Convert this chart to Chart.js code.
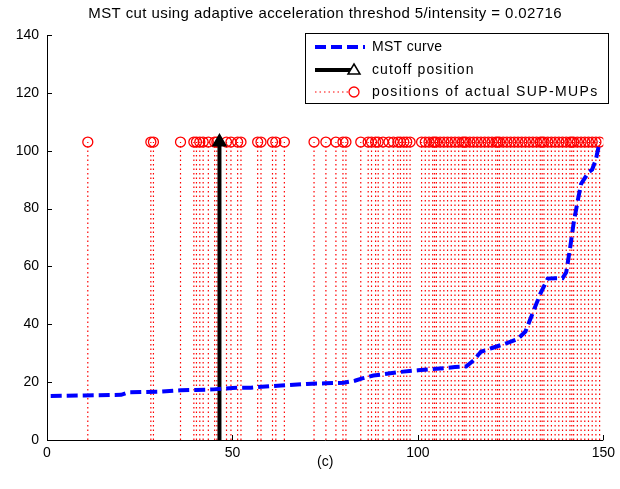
<!DOCTYPE html>
<html>
<head>
<meta charset="utf-8">
<script src="https://cdn.jsdelivr.net/npm/chart.js@4"></script>
<style>
  html, body { margin: 0; padding: 0; background: #fff; }
  #wrap { width: 620px; height: 489px; }
</style>
</head>
<body>
<div id="wrap"><canvas id="chart" width="620" height="489"></canvas></div>
<script>
// MST curve (x = index, y = MST value)
const curveX = [1, 10, 20, 22, 30, 36, 40, 45, 50, 55, 60, 65, 70, 75, 80, 83, 85, 88, 90, 95, 100, 105, 110, 113, 115, 117, 120, 124, 127, 129, 131, 133, 135, 137, 139, 140, 141, 142, 143, 144, 145, 146, 147, 148, 149];
const curveY = [15.2, 15.4, 15.6, 16.5, 16.7, 17.2, 17.3, 17.5, 18.0, 18.1, 18.6, 19.0, 19.4, 19.6, 19.8, 20.5, 21.3, 22.3, 22.6, 23.5, 24.1, 24.6, 25.2, 25.4, 27.5, 30.5, 31.8, 33.5, 35.0, 37.5, 44.0, 50.5, 55.8, 55.9, 55.9, 58.0, 66.0, 75.0, 82.0, 88.5, 90.5, 92.5, 93.5, 97.0, 103.0];

// positions of actual SUP-MUPs
const supPositions = [11, 28, 28.7, 36, 39.6, 40.3, 41.2, 42.1, 43.5, 45.2, 45.8, 48.4, 49.6, 51.4, 52.3, 56.8, 57.7, 60.8, 61.7, 64.0,
  72.0, 75.2, 77.9, 79.8, 80.6, 84.6, 86.6, 87.5, 88.6, 89.3, 90.6, 92.2, 93.4, 94.6, 95.3, 96.2, 97.0, 97.9,
  101, 102, 103, 104, 104.5, 105, 106, 107, 108, 109, 110, 111, 112, 112.5, 113, 114, 115, 116, 117, 118, 119, 120,
  121, 121.5, 122, 123, 124, 125, 126, 127, 128, 129, 130, 131, 132, 133, 133.5, 134, 135, 136, 137, 138, 139, 140,
  141, 141.5, 142, 143, 144, 145, 146, 147, 148, 149];
const stemHeight = 103;

// cutoff position
const cutoffX = 46.5;
const cutoffTop = 103;

// axis ticks
const xTicks = [0, 50, 100, 150];
const yTicks = [0, 20, 40, 60, 80, 100, 120, 140];

const titleText = 'MST cut using adaptive acceleration threshod 5/intensity = 0.02716';
const xTitle = '(c)';
const legendLabels = ['MST curve', 'cutoff position', 'positions of actual SUP-MUPs'];

const FONT = 'Arial, "Liberation Sans", Helvetica, sans-serif';

// build datasets
const curveData = curveX.map((x, i) => ({ x: x, y: curveY[i] }));
const stemData = [];
supPositions.forEach(p => {
  stemData.push({ x: p, y: 0 }, { x: p, y: stemHeight }, { x: p, y: null });
});
const cutoffData = [{ x: cutoffX, y: 0 }, { x: cutoffX, y: cutoffTop }];

// MATLAB-like axes, inward ticks, title and legend
const matlabDecor = {
  id: 'matlabDecor',
  afterDraw(chart) {
    const ctx = chart.ctx;
    const a = chart.chartArea;
    const xs = chart.scales.x, ys = chart.scales.y;
    ctx.save();
    ctx.strokeStyle = '#000';
    ctx.lineWidth = 1;
    ctx.beginPath();
    ctx.moveTo(a.left + 0.5, a.top);
    ctx.lineTo(a.left + 0.5, a.bottom + 0.5);
    ctx.lineTo(a.right, a.bottom + 0.5);
    ctx.stroke();
    ctx.beginPath();
    yTicks.forEach(v => {
      const y = Math.round(ys.getPixelForValue(v)) + 0.5;
      ctx.moveTo(a.left, y);
      ctx.lineTo(a.left + 5, y);
    });
    xTicks.forEach(v => {
      const x = Math.round(xs.getPixelForValue(v)) + 0.5;
      ctx.moveTo(x, a.bottom);
      ctx.lineTo(x, a.bottom - 5);
    });
    ctx.stroke();

    // title
    ctx.fillStyle = '#000';
    ctx.font = '15px ' + FONT;
    ctx.letterSpacing = '0.4px';
    ctx.textAlign = 'center';
    ctx.textBaseline = 'middle';
    ctx.fillText(titleText, (a.left + a.right) / 2, 14);

    // legend box
    const bx = 305, by = 33, bw = 303, bh = 70;
    ctx.letterSpacing = '0px';
    ctx.fillStyle = '#fff';
    ctx.fillRect(bx, by, bw, bh);
    ctx.strokeRect(bx + 0.5, by + 0.5, bw, bh);
    const rows = [47, 70, 92];
    const x0 = 315, x1 = 365, tx = 372;

    // MST curve sample
    ctx.strokeStyle = '#0000ff';
    ctx.lineWidth = 4;
    ctx.setLineDash([11, 5]);
    ctx.beginPath();
    ctx.moveTo(x0, rows[0]);
    ctx.lineTo(x1, rows[0]);
    ctx.stroke();
    ctx.setLineDash([]);

    // cutoff sample
    ctx.strokeStyle = '#000';
    ctx.lineWidth = 4;
    ctx.beginPath();
    ctx.moveTo(x0, rows[1]);
    ctx.lineTo(x1 - 14, rows[1]);
    ctx.stroke();
    ctx.lineWidth = 1.5;
    ctx.beginPath();
    ctx.moveTo(354, rows[1] - 6);
    ctx.lineTo(360, rows[1] + 4);
    ctx.lineTo(348, rows[1] + 4);
    ctx.closePath();
    ctx.fillStyle = '#fff';
    ctx.fill();
    ctx.stroke();

    // SUP-MUP sample
    ctx.strokeStyle = '#ff0000';
    ctx.lineWidth = 1.2;
    ctx.setLineDash([1.5, 3]);
    ctx.beginPath();
    ctx.moveTo(x0, rows[2]);
    ctx.lineTo(x1 - 16, rows[2]);
    ctx.stroke();
    ctx.setLineDash([]);
    ctx.lineWidth = 1.3;
    ctx.beginPath();
    ctx.arc(354, rows[2], 5, 0, Math.PI * 2);
    ctx.stroke();

    ctx.fillStyle = '#000';
    ctx.font = '14px ' + FONT;
    ctx.textAlign = 'left';
    const spacing = ['0.3px', '1.1px', '1.4px'];
    legendLabels.forEach((t, i) => {
      ctx.letterSpacing = spacing[i];
      ctx.fillText(t, tx, rows[i]);
    });
    ctx.restore();
  }
};

new Chart(document.getElementById('chart'), {
  type: 'line',
  data: {
    datasets: [
      {
        label: legendLabels[0],
        data: curveData,
        borderColor: '#0000ff',
        borderWidth: 4,
        borderDash: [11, 5],
        pointRadius: 0,
        tension: 0,
        fill: false
      },
      {
        label: legendLabels[1],
        data: cutoffData,
        borderColor: '#000',
        backgroundColor: '#000',
        borderWidth: 4,
        pointStyle: 'triangle',
        pointRadius: ctx => (ctx.raw && ctx.raw.y === cutoffTop ? 7 : 0),
        pointBorderWidth: 2,
        fill: false
      },
      {
        label: legendLabels[2],
        data: stemData,
        borderColor: '#ff0000',
        borderWidth: 1.2,
        borderDash: [1.5, 3],
        spanGaps: false,
        pointStyle: 'circle',
        pointRadius: ctx => (ctx.raw && ctx.raw.y === stemHeight ? 5 : 0),
        pointBorderColor: '#ff0000',
        pointBackgroundColor: 'rgba(0,0,0,0)',
        pointBorderWidth: 1.3,
        fill: false
      }
    ]
  },
  options: {
    responsive: false,
    animation: false,
    layout: { padding: { top: 35, right: 15, left: 0, bottom: 0 } },
    plugins: {
      legend: { display: false },
      tooltip: { enabled: false },
      title: { display: false }
    },
    scales: {
      x: {
        type: 'linear',
        min: 0,
        max: 150,
        afterBuildTicks: s => { s.ticks = xTicks.map(v => ({ value: v })); },
        afterFit: s => { s.height = 49; },
        grid: { display: false, drawTicks: false },
        border: { display: false },
        ticks: { color: '#000', font: { family: FONT, size: 14 }, padding: 5, maxRotation: 0 },
        title: { display: true, text: xTitle, color: '#000', font: { family: FONT, size: 14 }, padding: { top: 2, bottom: 18 } }
      },
      y: {
        type: 'linear',
        min: 0,
        max: 140,
        afterBuildTicks: s => { s.ticks = yTicks.map(v => ({ value: v })); },
        afterFit: s => { s.width = 47; },
        grid: { display: false, drawTicks: false },
        border: { display: false },
        ticks: { color: '#000', font: { family: FONT, size: 14 }, padding: 8 }
      }
    }
  },
  plugins: [matlabDecor]
});
</script>
</body>
</html>
